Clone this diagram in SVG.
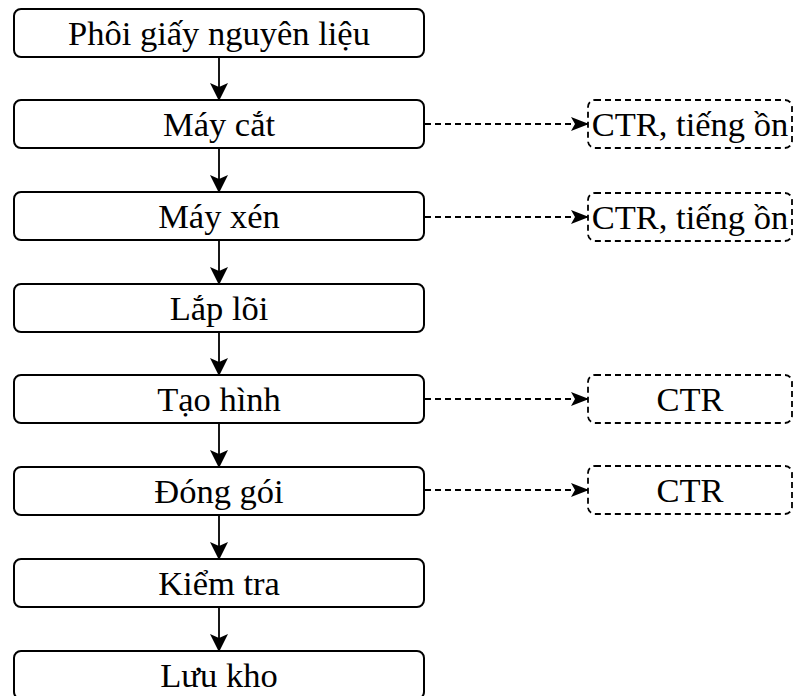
<svg xmlns="http://www.w3.org/2000/svg" width="795" height="696" viewBox="0 0 795 696" font-family="Liberation Serif, Times New Roman, serif">
<style>
.box{fill:#fff;stroke:#000;stroke-width:2}
.dbox{fill:#fff;stroke:#000;stroke-width:1.8;stroke-dasharray:6 4}
.t{font-family:'Liberation Serif','Times New Roman',serif;font-size:34.5px;fill:#000;text-anchor:middle}
.ln{stroke:#000;stroke-width:1.8;fill:none}
.dl{stroke:#000;stroke-width:1.8;fill:none;stroke-dasharray:6 4}
</style>
<defs>
<marker id="ah" viewBox="0 0 18 18" refX="17" refY="9" markerWidth="18" markerHeight="18" markerUnits="userSpaceOnUse" orient="auto">
<path d="M0,0 L18,9 L0,18 L4,9 Z" fill="#000"/>
</marker>
<marker id="ahs" viewBox="0 0 18 14" refX="17" refY="7" markerWidth="18" markerHeight="14" markerUnits="userSpaceOnUse" orient="auto">
<path d="M0,0 L18,7 L0,14 L4,7 Z" fill="#000"/>
</marker>
</defs>
<g id="connectors">
<line class="ln" x1="219" y1="57" x2="219" y2="100" marker-end="url(#ah)"/>
<line class="ln" x1="219" y1="148" x2="219" y2="192" marker-end="url(#ah)"/>
<line class="ln" x1="219" y1="240" x2="219" y2="284" marker-end="url(#ah)"/>
<line class="ln" x1="219" y1="332" x2="219" y2="375" marker-end="url(#ah)"/>
<line class="ln" x1="219" y1="423" x2="219" y2="467" marker-end="url(#ah)"/>
<line class="ln" x1="219" y1="515" x2="219" y2="559" marker-end="url(#ah)"/>
<line class="ln" x1="219" y1="607" x2="219" y2="651" marker-end="url(#ah)"/>
<line class="dl" x1="425" y1="124" x2="588" y2="124" marker-end="url(#ahs)"/>
<line class="dl" x1="425" y1="217" x2="588" y2="217" marker-end="url(#ahs)"/>
<line class="dl" x1="425" y1="399" x2="588" y2="399" marker-end="url(#ahs)"/>
<line class="dl" x1="425" y1="490" x2="588" y2="490" marker-end="url(#ahs)"/>
</g>
<g id="n1"><rect class="box" x="14" y="9" width="410" height="48" rx="7"/><text class="t" x="219" y="45">Phôi giấy nguyên liệu</text></g>
<g id="n2"><rect class="box" x="14" y="100" width="410" height="48" rx="7"/><text class="t" x="219" y="136">Máy cắt</text></g>
<g id="n3"><rect class="box" x="14" y="192" width="410" height="48" rx="7"/><text class="t" x="219" y="228">Máy xén</text></g>
<g id="n4"><rect class="box" x="14" y="284" width="410" height="48" rx="7"/><text class="t" x="219" y="320">Lắp lõi</text></g>
<g id="n5"><rect class="box" x="14" y="375" width="410" height="48" rx="7"/><text class="t" x="219" y="411">Tạo hình</text></g>
<g id="n6"><rect class="box" x="14" y="467" width="410" height="48" rx="7"/><text class="t" x="219" y="503">Đóng gói</text></g>
<g id="n7"><rect class="box" x="14" y="559" width="410" height="48" rx="7"/><text class="t" x="219" y="595">Kiểm tra</text></g>
<g id="n8"><rect class="box" x="14" y="651" width="410" height="48" rx="7"/><text class="t" x="219" y="687">Lưu kho</text></g>
<g id="r1"><rect class="dbox" x="588" y="100" width="204" height="48" rx="7"/><text class="t" x="690" y="136">CTR, tiếng ồn</text></g>
<g id="r2"><rect class="dbox" x="588" y="193" width="204" height="48" rx="7"/><text class="t" x="690" y="229">CTR, tiếng ồn</text></g>
<g id="r3"><rect class="dbox" x="588" y="375" width="204" height="48" rx="7"/><text class="t" x="690" y="411">CTR</text></g>
<g id="r4"><rect class="dbox" x="588" y="466" width="204" height="48" rx="7"/><text class="t" x="690" y="502">CTR</text></g>
</svg>
